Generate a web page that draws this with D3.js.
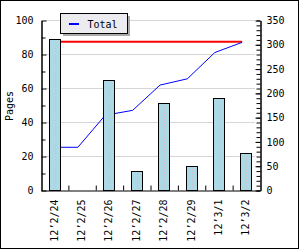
<!DOCTYPE html>
<html>
<head>
<meta charset="utf-8">
<script src="https://cdn.jsdelivr.net/npm/d3@7"></script>
<style>
  body { margin: 0; background: #fff; }
  text { font-family: "DejaVu Sans Mono", monospace; font-size: 10px; fill: #000; }
</style>
</head>
<body>
<div id="chart"></div>
<script>
// data
var days   = ["12\u20192/24", "12\u20192/25", "12\u20192/26", "12\u20192/27",
              "12\u20192/28", "12\u20192/29", "12\u20193/1", "12\u20193/2"];
var pages  = [89, 0, 65, 11, 51, 14, 54, 22];
var totals = [89, 89, 155, 165, 217, 230, 284, 305];
var maxTotal = 305;
var leftTicks  = [0, 20, 40, 60, 80, 100];
var rightTicks = [0, 50, 100, 150, 200, 250, 300, 350];

var chart_width  = 300;
var chart_height = 250;
var plotLeft = 41, plotRight = 260, plotTop = 20, plotBottom = 190;

var svg = d3.select("#chart").append("svg")
    .attr("width", chart_width)
    .attr("height", chart_height);

// frame
svg.append("rect")
    .attr("x", 0.5).attr("y", 0.5)
    .attr("width", 298).attr("height", 248)
    .attr("fill", "#fff").attr("stroke", "#000");

var x = d3.scaleBand().domain(days).range([plotLeft, plotRight]).paddingInner(0.56).paddingOuter(0.28);
var xPos = d3.scaleLinear().domain([0, days.length]).range([plotLeft, plotRight]);
var yL = d3.scaleLinear().domain([0, 100]).range([plotBottom, plotTop]);
var yR = d3.scaleLinear().domain([0, 350]).range([plotBottom, plotTop]);

// gridlines
svg.append("g")
    .selectAll("line")
    .data(leftTicks.slice(1))
    .enter().append("line")
    .attr("x1", plotLeft + 4).attr("x2", plotRight - 5)
    .attr("y1", function(d){ return Math.round(yL(d)) + 0.5; })
    .attr("y2", function(d){ return Math.round(yL(d)) + 0.5; })
    .attr("stroke", "#d6d6d6");

// line points sit a bit left of the bar centre
function px(i){ return xPos(i) + 9.5; }

// max line
svg.append("line")
    .attr("x1", px(0)).attr("x2", px(days.length - 1))
    .attr("y1", yR(maxTotal)).attr("y2", yR(maxTotal))
    .attr("stroke", "#ff0000").attr("stroke-width", 2);

// total line
svg.append("path")
    .datum(totals)
    .attr("fill", "none")
    .attr("stroke", "#0000ff")
    .attr("stroke-width", 1)
    .attr("d", d3.line()
        .x(function(d, i){ return px(i); })
        .y(function(d){ return yR(d) + 0.5; }));

// bars
var barData = days.map(function(d, i){ return { day: d, value: pages[i] }; })
    .filter(function(d){ return d.value > 0; });

var bars = svg.append("g").selectAll("g")
    .data(barData)
    .enter().append("g");

bars.append("rect")
    .attr("x", function(d){ return Math.round(x(d.day)) + 0.5; })
    .attr("y", function(d){ return Math.round(yL(d.value)) + 0.5; })
    .attr("width", 11)
    .attr("height", function(d){ return plotBottom - Math.round(yL(d.value)); })
    .attr("fill", "#add8e6")
    .attr("stroke", "#000");

bars.append("line")
    .attr("x1", function(d){ return Math.round(x(d.day)) + 6.5; })
    .attr("x2", function(d){ return Math.round(x(d.day)) + 6.5; })
    .attr("y1", function(d){ return Math.round(yL(d.value)) + 3; })
    .attr("y2", plotBottom - 1)
    .attr("stroke", "#e2b4bc")
    .attr("stroke-dasharray", "1,2");

// left axis
svg.append("g")
    .attr("transform", "translate(" + (plotLeft + 0.5) + ",0.5)")
    .call(d3.axisLeft(yL).tickValues(d3.range(10, 100, 20)).tickSizeInner(-4).tickSizeOuter(0).tickFormat(""));
svg.append("g")
    .attr("transform", "translate(" + (plotLeft + 0.5) + ",0.5)")
    .call(d3.axisLeft(yL).tickValues(leftTicks).tickSizeInner(-5).tickSizeOuter(0).tickPadding(8));

// right axis
svg.append("g")
    .attr("transform", "translate(" + (plotRight + 0.5) + ",0.5)")
    .call(d3.axisRight(yR).tickValues(d3.range(0, 351, 10)).tickSizeInner(-4).tickSizeOuter(0).tickFormat(""));
svg.append("g")
    .attr("transform", "translate(" + (plotRight + 0.5) + ",0.5)")
    .call(d3.axisRight(yR).tickValues(rightTicks).tickSizeInner(-5).tickSizeOuter(0).tickPadding(6));

// bottom axis: ticks between days, labels rotated
svg.append("g")
    .attr("transform", "translate(0," + (plotBottom + 0.5) + ")")
    .call(d3.axisBottom(xPos).tickValues(d3.range(1, days.length)).tickSizeInner(-5).tickSizeOuter(0).tickFormat(""));

svg.append("g")
    .attr("transform", "translate(-0.5," + (plotBottom + 0.5) + ")")
    .call(d3.axisBottom(x).tickSize(0).tickPadding(0))
    .call(function(g){ g.select(".domain").remove(); })
    .selectAll("text")
    .attr("transform", "rotate(-90)")
    .attr("text-anchor", "end")
    .attr("x", -9)
    .attr("y", 0)
    .attr("dy", "0.35em");

svg.selectAll(".tick text").style("font-family", "'DejaVu Sans Mono', monospace").style("font-size", "10px");
svg.selectAll(".domain, .tick line").attr("stroke", "#000");

// y title
svg.append("text")
    .attr("transform", "translate(13,106) rotate(-90)")
    .attr("text-anchor", "middle")
    .text("Pages");

// legend
var legend = svg.append("g");
legend.append("rect")
    .attr("x", 63).attr("y", 16)
    .attr("width", 67).attr("height", 20)
    .attr("fill", "#aaaaaa");
legend.append("rect")
    .attr("x", 60.5).attr("y", 13.5)
    .attr("width", 67).attr("height", 20)
    .attr("fill", "#ecebf0").attr("stroke", "#000");
legend.append("line")
    .attr("x1", 69).attr("x2", 79)
    .attr("y1", 24).attr("y2", 24)
    .attr("stroke", "#0000ff").attr("stroke-width", 2);
legend.append("text")
    .attr("x", 87.5).attr("y", 27.5)
    .text("Total");
</script>
</body>
</html>
